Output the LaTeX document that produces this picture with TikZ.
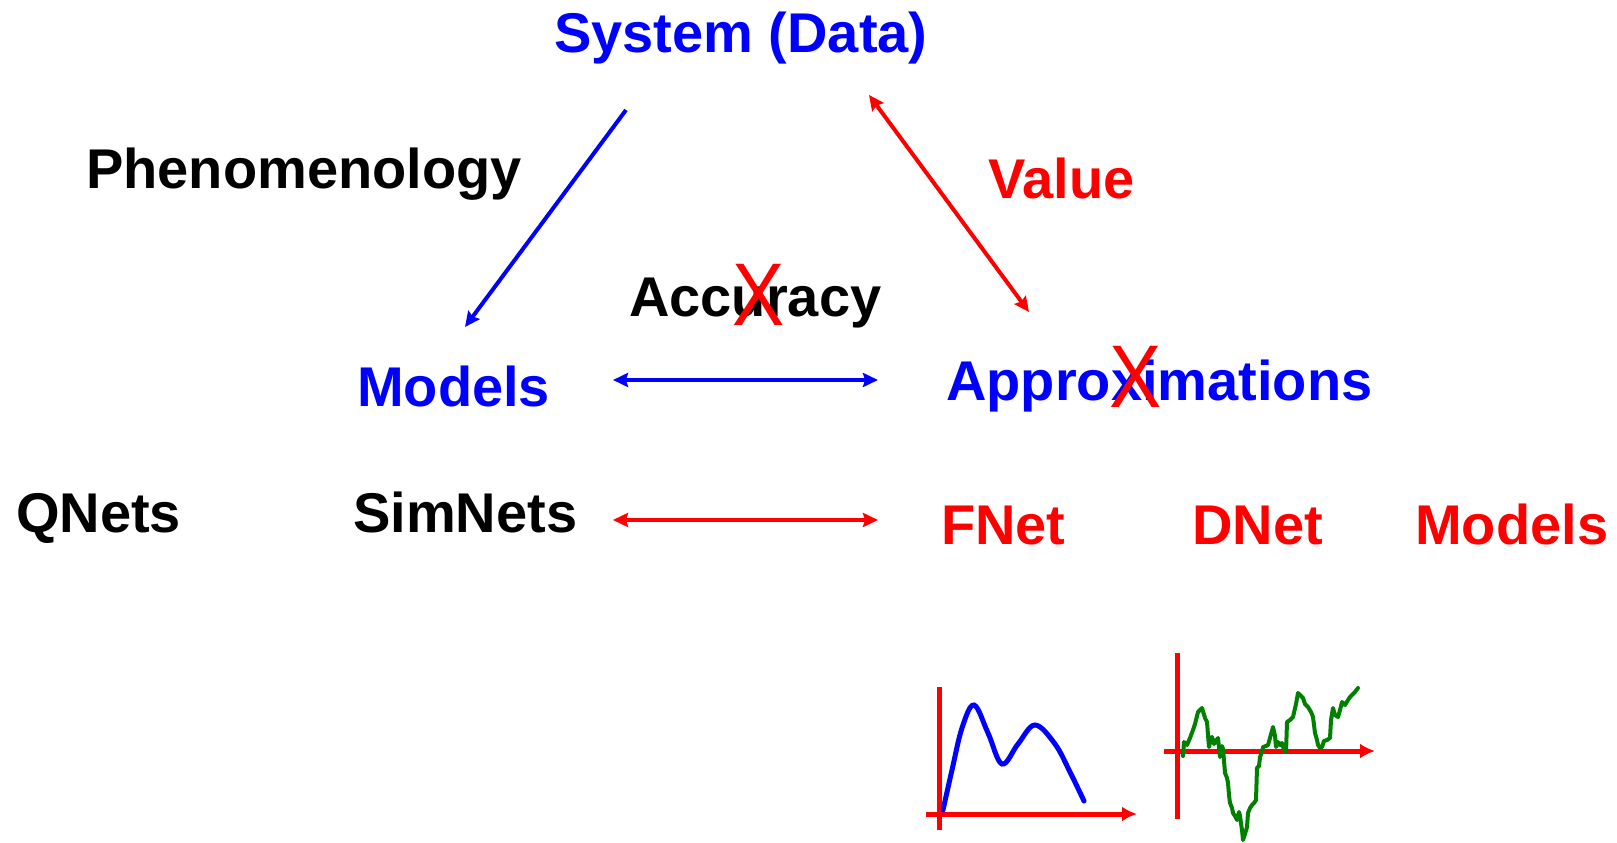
\documentclass[tikz,border=0pt]{standalone}
\usepackage{fontspec}
\setmainfont{Liberation Sans}
\usetikzlibrary{arrows.meta}
\definecolor{pblue}{RGB}{0,0,255}
\definecolor{pred}{RGB}{255,0,0}
\definecolor{pgreen}{RGB}{0,128,0}
\tikzset{
  lbl/.style={inner sep=0pt, anchor=base west, font=\fontsize{56}{60}\selectfont\bfseries},
  cross/.style={inner sep=0pt, anchor=base, text=pred, xscale=0.88, font=\fontsize{89}{92}\selectfont},
  link/.style={line width=4pt},
  linktip/.tip={Stealth[length=15pt, width=14pt, inset=2pt]},
  axistip/.tip={Latex[length=15pt, width=15pt]},
  axis/.style={pred, line width=5pt},
}
\begin{document}
\begin{tikzpicture}[x=1pt, y=-1pt]
\path[use as bounding box] (0,0) rectangle (1617,843);

% labels
\node[lbl, text=pblue] (sys) at (554,52.5) {System (Data)};
\node[lbl] (phen) at (86,188) {Phenomenology};
\node[lbl, text=pred] (val) at (988,198) {Value};
\node[lbl] (acc) at (629,316) {Accuracy};
\node[lbl, text=pblue] (mod) at (357,406) {Models};
\node[lbl, text=pblue] (appr) at (946,400) {Approximations};
\node[lbl] (qnets) at (16,532) {QNets};
\node[lbl] (simnets) at (353,532) {SimNets};
\node[lbl, text=pred] (fnet) at (941,544) {FNet};
\node[lbl, text=pred] (dnet) at (1192,544) {DNet};
\node[lbl, text=pred] (rmod) at (1415,544) {Models};

% crossed-out letters
\node[cross] (xacc) at (759,325) {X};
\node[cross] (xappr) at (1136,407) {X};

% connector end points
\coordinate (sysL) at (626,110);
\coordinate (modT) at (465,327);
\coordinate (sysR) at (869,95);
\coordinate (apprT) at (1029,312);
\coordinate (modR) at (613,380);
\coordinate (apprL) at (878,380);
\coordinate (simR) at (613,520);
\coordinate (fnetL) at (878,520);

% connectors
\draw[link, pblue, -{linktip}] (sysL) -- (modT);
\draw[link, pred, {linktip}-{linktip}] (sysR) -- (apprT);
\draw[link, pblue, {linktip}-{linktip}] (modR) -- (apprL);
\draw[link, pred, {linktip}-{linktip}] (simR) -- (fnetL);

% smooth function sketch
\draw[axis] (939,687) -- (939,830);
\draw[axis, -{axistip}] (926,814) -- (1137,814);
\draw[pblue, line width=5pt, line cap=round] plot[smooth, tension=0.6] coordinates
  {(943,810) (952,770) (962,728) (974,705) (988,733) (1002,764) (1018,744) (1035,725) (1055,744) (1070,772) (1084,801)};

% random walk sketch
\draw[axis] (1177,653) -- (1177,819);
\draw[axis, -{axistip}] (1164,751) -- (1375,751);
\draw[pgreen, line width=4pt, line join=round, line cap=round] plot coordinates {
  (1183,756) (1184,742) (1187,745) (1190,738) (1193,730) (1195,724) (1198,712) (1202,708)
  (1205,718) (1207,722) (1208,735) (1209,747) (1211,738) (1212,737) (1214,744) (1215,742)
  (1218,738) (1220,757) (1222,746) (1223,749) (1225,773) (1227,778) (1228,783) (1229,795)
  (1230,803) (1232,808) (1233,813) (1235,816) (1237,820) (1239,812) (1240,816) (1242,830)
  (1243,840) (1245,834) (1247,827) (1248,813) (1250,808) (1252,805) (1254,803) (1256,800)
  (1257,768) (1259,766) (1260,757) (1262,752) (1263,747) (1266,746) (1268,745) (1270,738)
  (1273,727) (1275,736) (1276,747) (1278,742) (1280,745) (1282,743) (1283,747) (1286,752)
  (1287,722) (1290,720) (1293,717) (1296,704) (1298,693) (1301,696) (1303,698) (1305,704)
  (1308,707) (1311,712) (1313,717) (1315,733) (1317,740) (1318,745) (1320,748) (1322,747)
  (1324,741) (1327,740) (1330,738) (1331,720) (1333,708) (1335,715) (1338,717) (1340,710)
  (1342,702) (1345,705) (1348,700) (1350,697) (1352,695) (1355,692) (1358,688)};
\end{tikzpicture}
\end{document}
